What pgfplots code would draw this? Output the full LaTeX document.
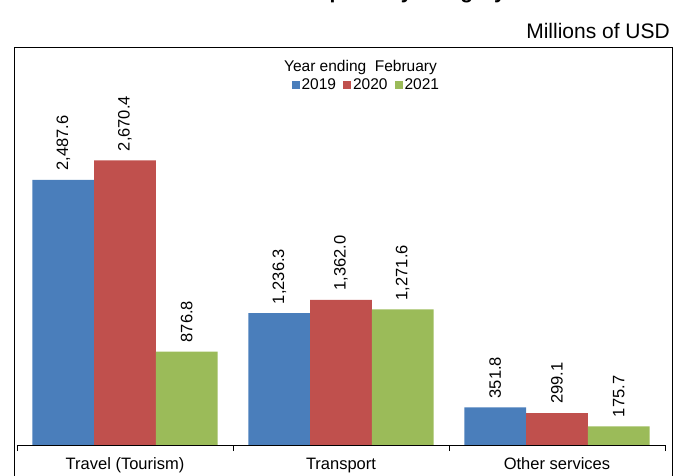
\documentclass[border=0pt]{standalone}
\usepackage{fontspec}
\setmainfont{Liberation Sans}
\usepackage{pgfplots}
\pgfplotsset{compat=1.18}
\definecolor{cblue}{HTML}{4A7EBB}
\definecolor{cred}{HTML}{C0504D}
\definecolor{cgreen}{HTML}{9BBB59}
\begin{document}
\begin{tikzpicture}[x=1pt,y=1pt]
\useasboundingbox (0,0) rectangle (682,476);
\draw[line width=1pt, black] (14,-10) -- (14,428) -- (672,428) -- (672,-10);
\node[anchor=base east, inner sep=0pt, font=\fontsize{21}{24}\selectfont] at (670,437) {Millions of USD};
\node[anchor=base, inner sep=0pt, font=\bfseries\fontsize{21}{24}\selectfont] at (360,477.5) {Services exports by category};
\node[anchor=base, inner sep=0pt, font=\fontsize{15.5}{18}\selectfont] at (360.5,404) {Year ending~~February};
\begin{axis}[
  at={(17pt,31pt)}, anchor=south west,
  scale only axis, width=648pt, height=373.1pt,
  xmin=-0.5, xmax=2.5, ymin=0, ymax=3500,
  axis y line=none, axis x line*=bottom,
  axis line style={line width=0.8pt, black},
  ybar=0pt, bar width=61.7pt,
  xtick={0,1,2}, xticklabels={Travel (Tourism),Transport,Other services},
  major tick length=0pt,
  minor xtick={-0.5,0.5,1.5,2.5}, minor tick length=6pt, tick align=outside,
  minor tick style={line width=0.8pt, black},
  xticklabel style={font=\fontsize{16.5}{19}\selectfont, anchor=base, yshift=-24.8pt},
  nodes near coords,
  every node near coord/.append style={rotate=90, anchor=west, inner xsep=9pt, inner ysep=0pt,
     font=\fontsize{16.5}{19}\selectfont, black,
     /pgf/number format/fixed, /pgf/number format/fixed zerofill,
     /pgf/number format/precision=1, /pgf/number format/1000 sep={,},
     /pgf/number format/assume math mode=true},
  legend columns=3,
  legend style={draw=none, fill=none, at={(0.539,0.964)}, anchor=center,
     font=\fontsize{15.5}{18}\selectfont,
     /tikz/every even column/.append style={column sep=5pt}},
  legend image code/.code={\fill[#1] (0pt,-4pt) rectangle (8pt,4pt);},
]
\addplot[fill=cblue, draw=none] coordinates {(0,2487.6) (1,1236.3) (2,351.8)};
\addplot[fill=cred, draw=none] coordinates {(0,2670.4) (1,1362.0) (2,299.1)};
\addplot[fill=cgreen, draw=none] coordinates {(0,876.8) (1,1271.6) (2,175.7)};
\legend{2019,2020,2021}
\end{axis}
\end{tikzpicture}
\end{document}
